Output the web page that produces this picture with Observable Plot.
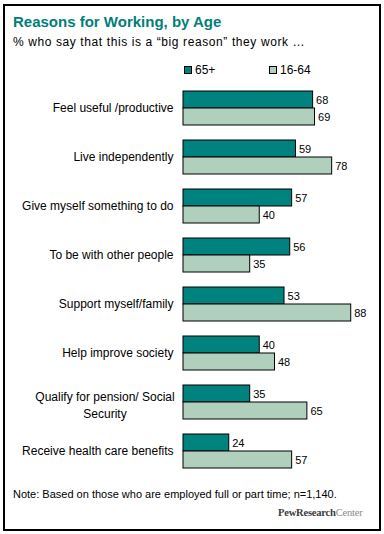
<!DOCTYPE html>
<html>
<head>
<meta charset="utf-8">
<script src="https://cdn.jsdelivr.net/npm/d3@7"></script>
<script src="https://cdn.jsdelivr.net/npm/@observablehq/plot@0.6"></script>
<style>
  html, body { margin: 0; padding: 0; background: #fff; }
  body { width: 384px; height: 534px; position: relative; overflow: hidden; font-family: "Liberation Sans", Arial, sans-serif; color: #000; }
  #frame { position: absolute; left: 3px; top: 4px; width: 374px; height: 523px; border: 2px solid #000; }
  #title { position: absolute; left: 13px; top: 14px; font-size: 15px; line-height: 15px; font-weight: bold; color: #007f7a; white-space: nowrap; }
  #subtitle { position: absolute; left: 13px; top: 36px; font-size: 12px; line-height: 12px; letter-spacing: 0.6px; white-space: nowrap; }
  #legend { position: absolute; top: 64px; left: 0; font-size: 12px; line-height: 12px; }
  .sw { position: absolute; white-space: nowrap; display: flex; align-items: center; }
  .sw i { display: inline-block; width: 6px; height: 6px; border: 1px solid #000; margin-right: 3px; }
  #chart { position: absolute; left: 0; top: 80px; }
  #note { position: absolute; left: 13px; top: 489px; font-size: 11px; line-height: 11px; white-space: nowrap; }
  #logo { position: absolute; left: 278px; top: 507px; font-family: "Liberation Serif", "DejaVu Serif", serif; font-size: 10.5px; line-height: 12px; white-space: nowrap; letter-spacing: -0.2px; }
  #logo b { color: #3a3a3a; }
  #logo span { color: #8a8a8a; }
</style>
</head>
<body>
<div id="frame"></div>
<div id="title">Reasons for Working, by Age</div>
<div id="subtitle">% who say that this is a “big reason” they work …</div>
<div id="legend"></div>
<div id="chart"></div>
<div id="note">Note: Based on those who are employed full or part time; n=1,140.</div>
<div id="logo"><b>PewResearch</b><span>Center</span></div>
<script>
// ---- data ----
const categories = [
  "Feel useful /productive",
  "Live independently",
  "Give myself something to do",
  "To be with other people",
  "Support myself/family",
  "Help improve society",
  "Qualify for pension/ Social\nSecurity",
  "Receive health care benefits"
];
const seriesNames = ["65+", "16-64"];
const seriesColors = ["#00837e", "#b1cfbd"];
const values65plus = [68, 59, 57, 56, 53, 40, 35, 24];
const values16to64 = [69, 78, 40, 35, 88, 48, 65, 57];

const rows = [];
categories.forEach((c, i) => {
  rows.push({category: c, series: seriesNames[0], value: values65plus[i]});
  rows.push({category: c, series: seriesNames[1], value: values16to64[i]});
});
const singleLine = categories.filter(c => !c.includes("\n")).map(c => ({category: c}));
const multiLine = categories.filter(c => c.includes("\n")).map(c => ({category: c}));

// ---- legend ----
const legend = document.getElementById("legend");
const legendX = [184, 269];
seriesNames.forEach((s, i) => {
  const d = document.createElement("div");
  d.className = "sw";
  d.style.left = legendX[i] + "px";
  d.innerHTML = `<i style="background:${seriesColors[i]}"></i>${s}`;
  legend.appendChild(d);
});

// ---- chart ----
const chart = Plot.plot({
  width: 384,
  height: 400,
  marginLeft: 183,
  marginRight: 10.4,
  marginTop: 8,
  marginBottom: 10,
  style: {fontFamily: "Liberation Sans, Arial, sans-serif", fontSize: "11px", background: "transparent"},
  x: {domain: [0, 100], axis: null},
  y: {domain: seriesNames, padding: 0, axis: null},
  fy: {domain: categories, paddingInner: 0.295, paddingOuter: 0, axis: null},
  color: {domain: seriesNames, range: seriesColors},
  marks: [
    Plot.barX(rows, {x: "value", y: "series", fy: "category", fill: "series", stroke: "#000", strokeWidth: 1, inset: 0}),
    Plot.text(rows, {x: "value", y: "series", fy: "category", text: d => String(d.value), textAnchor: "start", dx: 3, fontSize: 11, fill: "#000"}),
    Plot.text(singleLine, {fy: "category", text: "category", frameAnchor: "left", textAnchor: "end", dx: -10, fontSize: 12, fill: "#000"}),
    Plot.text(multiLine, {fy: "category", text: "category", frameAnchor: "left", textAnchor: "middle", dx: -78.5, dy: 2, lineHeight: 1.45, fontSize: 12, fill: "#000"})
  ]
});
document.getElementById("chart").appendChild(chart);
</script>
</body>
</html>
